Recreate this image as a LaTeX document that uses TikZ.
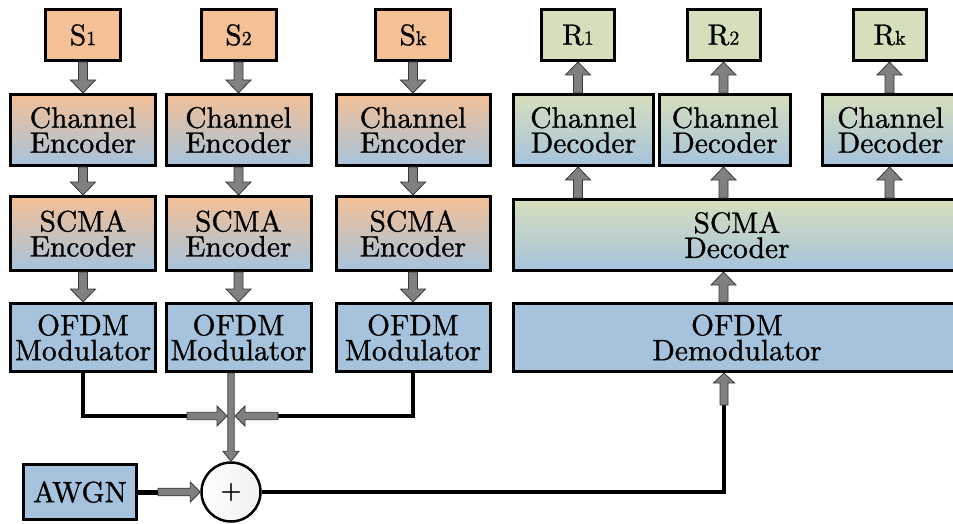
\documentclass[tikz,border=0pt]{standalone}
\usepackage{fontspec}
\setmainfont{lmroman10-regular.otf}[FakeBold=1]
\usetikzlibrary{calc}
\definecolor{peach}{RGB}{244,192,150}
\definecolor{lblue}{RGB}{166,195,221}
\definecolor{lgreen}{RGB}{214,223,188}
\definecolor{agray}{RGB}{128,128,128}
\definecolor{aedge}{RGB}{55,55,55}
\newcommand{\subsm}[1]{{\fontsize{20}{20}\selectfont #1}}
\tikzset{
  box/.style={draw=black, line width=3pt, inner sep=0pt, align=center,
     font=\rmfamily\fontsize{29.5}{25}\selectfont},
  srcbox/.style={box, fill=peach, minimum width=75pt, minimum height=51pt},
  sinkbox/.style={box, fill=lgreen, minimum width=73pt, minimum height=51pt},
  encbox/.style={box, top color=peach, bottom color=lblue},
  decbox/.style={box, top color=lgreen, bottom color=lblue},
  modbox/.style={box, fill=lblue},
  wire/.style={draw=black, line width=3.5pt},
  barrow/.style n args={3}{draw=aedge, fill=agray, line width=0.8pt, line join=miter,
    to path={
     ($(\tikztostart)!#1!90:(\tikztotarget)$) --
     ($(\tikztotarget)!#3!(\tikztostart)!#1!270:(\tikztostart)$) --
     ($(\tikztotarget)!#3!(\tikztostart)!#2!270:(\tikztostart)$) --
     (\tikztotarget) --
     ($(\tikztotarget)!#3!(\tikztostart)!#2!90:(\tikztostart)$) --
     ($(\tikztotarget)!#3!(\tikztostart)!#1!90:(\tikztostart)$) --
     ($(\tikztostart)!#1!270:(\tikztotarget)$) -- cycle \tikztonodes}},
  bigarrow/.style={barrow={4.5pt}{12.5pt}{13pt}},
  midarrow/.style={barrow={3.7pt}{10pt}{10pt}},
  thinarrow/.style={barrow={3.2pt}{8pt}{10pt}},
}
\begin{document}
\begin{tikzpicture}[x=1pt,y=-1pt]
\useasboundingbox (0,0) rectangle (953,524);
\clip (0,0) rectangle (953,524);
% ---- transmitters
\node[srcbox] (s1) at (83,35) {S\subsm{1}};
\node[srcbox] (s2) at (238.5,35) {S\subsm{2}};
\node[srcbox] (sk) at (413,35) {S\subsm{k}};
\node[encbox, minimum width=145pt, minimum height=71pt] (ce1) at (83,130) {Channel\\Encoder};
\node[encbox, minimum width=145pt, minimum height=71pt] (ce2) at (238.5,130) {Channel\\Encoder};
\node[encbox, minimum width=154pt, minimum height=71pt] (ce3) at (413,130) {Channel\\Encoder};
\node[encbox, minimum width=145pt, minimum height=74pt] (se1) at (83,233.5) {SCMA\\Encoder};
\node[encbox, minimum width=145pt, minimum height=74pt] (se2) at (238.5,233.5) {SCMA\\Encoder};
\node[encbox, minimum width=154pt, minimum height=74pt] (se3) at (413,233.5) {SCMA\\Encoder};
\node[modbox, minimum width=145pt, minimum height=68pt] (om1) at (83,337.5) {OFDM\\Modulator};
\node[modbox, minimum width=145pt, minimum height=68pt] (om2) at (238.5,337.5) {OFDM\\Modulator};
\node[modbox, minimum width=154pt, minimum height=68pt] (om3) at (413,337.5) {OFDM\\Modulator};
% ---- receivers
\node[sinkbox] (r1) at (578,35) {R\subsm{1}};
\node[sinkbox] (r2) at (723.5,35) {R\subsm{2}};
\node[sinkbox] (rk) at (889.5,35) {R\subsm{k}};
\node[decbox, minimum width=140pt, minimum height=71pt] (cd1) at (583.5,130) {Channel\\Decoder};
\node[decbox, minimum width=131pt, minimum height=71pt] (cd2) at (725,130) {Channel\\Decoder};
\node[decbox, minimum width=136pt, minimum height=71pt] (cd3) at (890.5,130) {Channel\\Decoder};
\node[decbox, minimum width=447pt, minimum height=71pt] (sd) at (737,235) {SCMA\\Decoder};
\node[modbox, minimum width=447pt, minimum height=68pt] (od) at (737,337.5) {OFDM\\Demodulator};
% ---- channel
\node[modbox, minimum width=113pt, minimum height=55pt] (awgn) at (80,492) {AWGN};
\node[draw=black, line width=2.5pt, circle, minimum size=59pt, inner sep=0pt,
      left color=white, right color=gray!12, font=\rmfamily\fontsize{27}{27}\selectfont] (plus) at (231,492) {+};
% ---- transmitter arrows
\foreach \a/\b in {s1/ce1,s2/ce2,sk/ce3,ce1/se1,ce2/se2,ce3/se3,se1/om1,se2/om2,se3/om3}
  \draw[bigarrow] (\a.south) to (\b.north);
% ---- receiver arrows
\foreach \r/\c in {r1/cd1,r2/cd2,rk/cd3}{
  \coordinate (\c t) at (\r.south |- \c.north);
  \coordinate (\c b) at (\r.south |- \c.south);
  \coordinate (\c s) at (\r.south |- sd.north);
  \draw[bigarrow] (\c t) to (\r.south);
  \draw[bigarrow] (\c s) to (\c b);
}
\coordinate (sdb) at (od.north -| r2.south);
\coordinate (sdt) at (sd.south -| r2.south);
\draw[bigarrow] (sdb) to (sdt);
% ---- combining
\coordinate (jl) at (187,416);
\coordinate (jlt) at (227,416);
\coordinate (jr) at (278,416);
\coordinate (jrt) at (235,416);
\coordinate (om2b) at (plus.north |- om2.south);
\draw[wire] (om1.south) |- (jl);
\draw[wire] (om3.south) |- (jr);
\draw[midarrow] (jl) to (jlt);
\draw[midarrow] (jr) to (jrt);
\draw[thinarrow] (om2b) to (plus.north);
\coordinate (ag) at (158,492);
\draw[wire, line width=5pt] (awgn.east) -- (ag);
\draw[barrow={3.8pt}{10pt}{10pt}] (ag) to (plus.west);
\coordinate (dm) at (724,405);
\coordinate (dmt) at (dm |- od.south);
\draw[wire] (plus.east) -| (dm);
\draw[barrow={4pt}{10.5pt}{10pt}] (dm) to (dmt);
\end{tikzpicture}
\end{document}
